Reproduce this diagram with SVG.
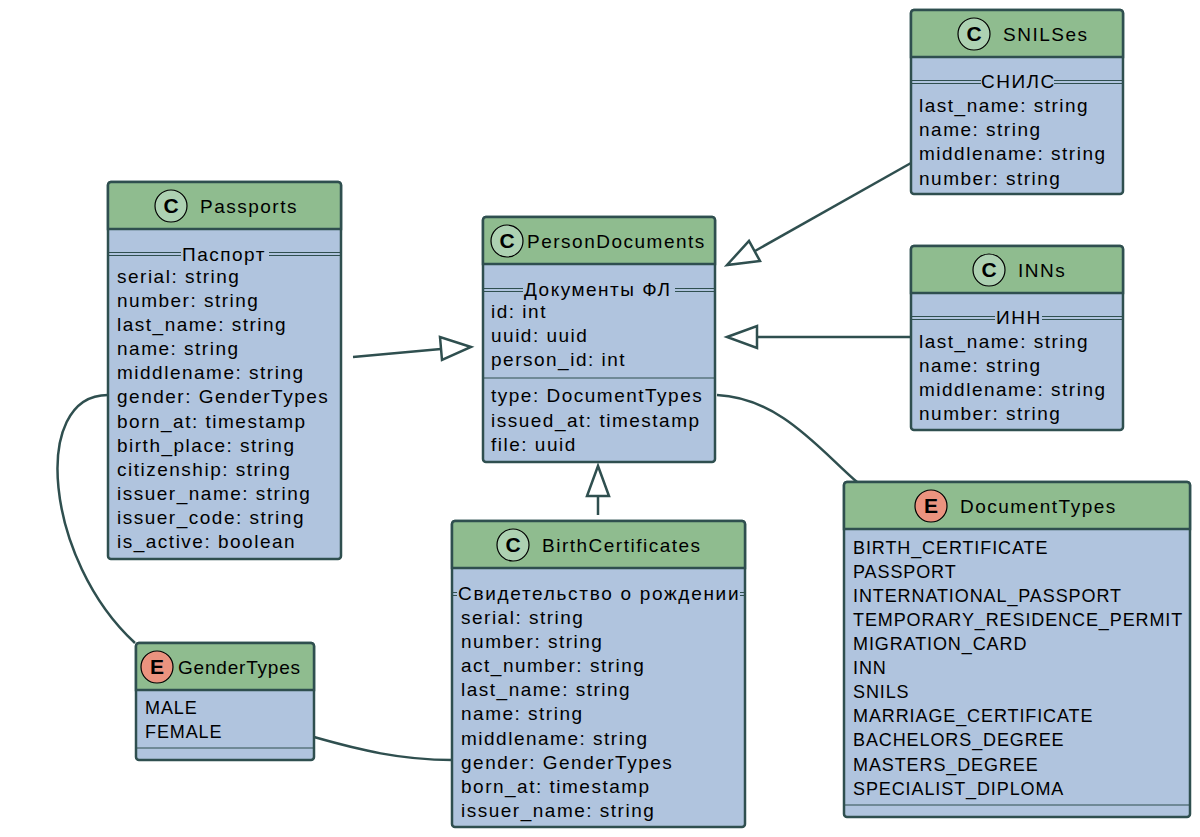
<svg xmlns="http://www.w3.org/2000/svg" width="1200" height="837" viewBox="0 0 1200 837">
<style>
.b{fill:#b0c4de;stroke:#2f4f4f;stroke-width:2.5}
.h{fill:#8fbc8f;stroke:#2f4f4f;stroke-width:2.5}
.s{stroke:#2f4f4f;stroke-width:1;fill:none}
text{font-family:"Liberation Sans",Arial,sans-serif;font-size:19px;fill:#000;letter-spacing:1.5px}
.e{font-size:18px;letter-spacing:0.9px}
.cc{fill:#add1b2;stroke:#000;stroke-width:1.2}
.ce{fill:#eb937f;stroke:#000;stroke-width:1.2}
.l{fill:none;stroke:#2f4f4f;stroke-width:2.5}
.tri{fill:#fff;stroke:#2f4f4f;stroke-width:2.5}
.g{font-weight:bold;font-size:21px;letter-spacing:0}
</style>
<g id="connectors">
<line x1="353" y1="357" x2="441" y2="349" class="l"/>
<polygon points="471,347 440,337 442,360" class="tri"/>
<line x1="911" y1="163" x2="755" y2="251" class="l"/>
<polygon points="727,265 749,241 760,261" class="tri"/>
<line x1="911" y1="337" x2="757" y2="337" class="l"/>
<polygon points="727,337 757,326 757,348" class="tri"/>
<line x1="598" y1="515" x2="598" y2="496" class="l"/>
<polygon points="598,466 587,496 609,496" class="tri"/>
<path d="M717,395 C780,398 820,450 857,482" class="l"/>
<path d="M108,395 C30,395 45,560 135,643" class="l"/>
<path d="M314,737 C360,750 400,760 452,760" class="l"/>
</g>
<g id="Passports">
<rect x="108" y="182" width="233" height="377" rx="3" class="b"/>
<path d="M111,182 h227 a3,3 0 0 1 3,3 v44 h-233 v-44 a3,3 0 0 1 3,-3z" class="h"/>
<circle cx="171" cy="206" r="16" class="cc"/><text x="171" y="213" text-anchor="middle" class="g">C</text>
<text x="200" y="213">Passports</text>
<path d="M109,252.5H181M269,252.5H340M109,255.5H181M269,255.5H340" class="s"/>
<text x="182" y="261">Паспорт</text>
<text x="117" y="283">serial: string</text>
<text x="117" y="307">number: string</text>
<text x="117" y="331">last_name: string</text>
<text x="117" y="355">name: string</text>
<text x="117" y="379">middlename: string</text>
<text x="117" y="403">gender: GenderTypes</text>
<text x="117" y="428">born_at: timestamp</text>
<text x="117" y="452">birth_place: string</text>
<text x="117" y="476">citizenship: string</text>
<text x="117" y="500">issuer_name: string</text>
<text x="117" y="524">issuer_code: string</text>
<text x="117" y="548">is_active: boolean</text>
</g>
<g id="PersonDocuments">
<rect x="483" y="217" width="232" height="245" rx="3" class="b"/>
<path d="M486,217 h226 a3,3 0 0 1 3,3 v44 h-232 v-44 a3,3 0 0 1 3,-3z" class="h"/>
<circle cx="507" cy="241" r="16" class="cc"/><text x="507" y="248" text-anchor="middle" class="g">C</text>
<text x="527" y="248">PersonDocuments</text>
<path d="M484,288.5H523M675,288.5H714M484,291.5H523M675,291.5H714" class="s"/>
<text x="524" y="296">Документы ФЛ</text>
<text x="491" y="318">id: int</text>
<text x="491" y="342">uuid: uuid</text>
<text x="491" y="366">person_id: int</text>
<line x1="484" y1="378" x2="714" y2="378" class="s"/>
<text x="491" y="402">type: DocumentTypes</text>
<text x="491" y="427">issued_at: timestamp</text>
<text x="491" y="451">file: uuid</text>
</g>
<g id="SNILSes">
<rect x="911" y="10" width="212" height="184" rx="3" class="b"/>
<path d="M914,10 h206 a3,3 0 0 1 3,3 v44 h-212 v-44 a3,3 0 0 1 3,-3z" class="h"/>
<circle cx="974" cy="34" r="16" class="cc"/><text x="974" y="41" text-anchor="middle" class="g">C</text>
<text x="1003" y="41">SNILSes</text>
<path d="M912,80.5H981M1054,80.5H1122M912,83.5H981M1054,83.5H1122" class="s"/>
<text x="981" y="88">СНИЛС</text>
<text x="919" y="112">last_name: string</text>
<text x="919" y="136">name: string</text>
<text x="919" y="160">middlename: string</text>
<text x="919" y="185">number: string</text>
</g>
<g id="INNs">
<rect x="911" y="246" width="212" height="184" rx="3" class="b"/>
<path d="M914,246 h206 a3,3 0 0 1 3,3 v44 h-212 v-44 a3,3 0 0 1 3,-3z" class="h"/>
<circle cx="989" cy="270" r="16" class="cc"/><text x="989" y="277" text-anchor="middle" class="g">C</text>
<text x="1018" y="277">INNs</text>
<path d="M912,316.5H995M1042,316.5H1122M912,319.5H995M1042,319.5H1122" class="s"/>
<text x="996" y="324">ИНН</text>
<text x="919" y="348">last_name: string</text>
<text x="919" y="372">name: string</text>
<text x="919" y="396">middlename: string</text>
<text x="919" y="420">number: string</text>
</g>
<g id="DocumentTypes">
<rect x="844" y="482" width="346" height="335" rx="3" class="b"/>
<path d="M847,482 h340 a3,3 0 0 1 3,3 v44 h-346 v-44 a3,3 0 0 1 3,-3z" class="h"/>
<circle cx="931" cy="506" r="16" class="ce"/><text x="931" y="513" text-anchor="middle" class="g">E</text>
<text x="960" y="513">DocumentTypes</text>
<text class="e" x="853" y="554">BIRTH_CERTIFICATE</text>
<text class="e" x="853" y="578">PASSPORT</text>
<text class="e" x="853" y="602">INTERNATIONAL_PASSPORT</text>
<text class="e" x="853" y="626">TEMPORARY_RESIDENCE_PERMIT</text>
<text class="e" x="853" y="650">MIGRATION_CARD</text>
<text class="e" x="853" y="674">INN</text>
<text class="e" x="853" y="698">SNILS</text>
<text class="e" x="853" y="722">MARRIAGE_CERTIFICATE</text>
<text class="e" x="853" y="746">BACHELORS_DEGREE</text>
<text class="e" x="853" y="771">MASTERS_DEGREE</text>
<text class="e" x="853" y="795">SPECIALIST_DIPLOMA</text>
<line x1="845" y1="805" x2="1189" y2="805" class="s"/>
</g>
<g id="GenderTypes">
<rect x="136" y="643" width="178" height="117" rx="3" class="b"/>
<path d="M139,643 h172 a3,3 0 0 1 3,3 v44 h-178 v-44 a3,3 0 0 1 3,-3z" class="h"/>
<circle cx="157" cy="667" r="16" class="ce"/><text x="157" y="674" text-anchor="middle" class="g">E</text>
<text x="178" y="674" style="letter-spacing:0.8px">GenderTypes</text>
<text class="e" x="145" y="714">MALE</text>
<text class="e" x="145" y="738">FEMALE</text>
<line x1="137" y1="748" x2="313" y2="748" class="s"/>
</g>
<g id="BirthCertificates">
<rect x="452" y="521" width="293" height="306" rx="3" class="b"/>
<path d="M455,521 h287 a3,3 0 0 1 3,3 v44 h-293 v-44 a3,3 0 0 1 3,-3z" class="h"/>
<circle cx="513" cy="545" r="16" class="cc"/><text x="513" y="552" text-anchor="middle" class="g">C</text>
<text x="542" y="552">BirthCertificates</text>
<path d="M453,592.5H457M740,592.5H744M453,595.5H457M740,595.5H744" class="s"/>
<text x="458" y="600" textLength="282" lengthAdjust="spacing">Свидетельство о рождении</text>
<text x="461" y="624">serial: string</text>
<text x="461" y="648">number: string</text>
<text x="461" y="672">act_number: string</text>
<text x="461" y="696">last_name: string</text>
<text x="461" y="720">name: string</text>
<text x="461" y="745">middlename: string</text>
<text x="461" y="769">gender: GenderTypes</text>
<text x="461" y="793">born_at: timestamp</text>
<text x="461" y="817">issuer_name: string</text>
</g>
</svg>
